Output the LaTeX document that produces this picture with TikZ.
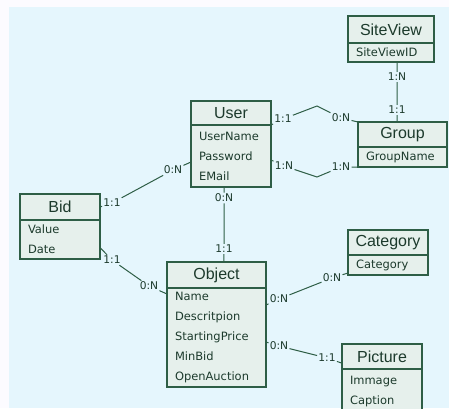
\documentclass[tikz,border=0pt]{standalone}
\usepackage{fontspec}
\setmainfont{Liberation Sans}
\newfontfamily\attrfont{DejaVu Sans}
\usetikzlibrary{positioning}
\definecolor{paper}{HTML}{E5F6FD}
\definecolor{margin}{HTML}{FCFBFF}
\definecolor{boxfill}{HTML}{E6F0EC}
\definecolor{boxline}{HTML}{2E5E46}
\definecolor{ink}{HTML}{1C3A2C}
\tikzset{
 entity/.style={draw=boxline,fill=boxfill,line width=1pt,anchor=north west,inner sep=0,outer sep=0,text=ink,font=\fontsize{12}{14}\selectfont},
 attrs/.style={draw=boxline,fill=boxfill,line width=1pt,anchor=north west,inner ysep=0,inner xsep=6pt,outer sep=0,align=left,text=ink,font=\attrfont\fontsize{8.6}{15}\selectfont},
 link/.style={draw=boxline,line width=.75pt},
 card/.style={inner sep=.8pt,text=ink,font=\attrfont\fontsize{8}{9}\selectfont}
}
\begin{document}
\begin{tikzpicture}[x=.75pt,y=-.75pt]
\path[use as bounding box] (0,0) rectangle (449,408);
\clip (0,0) rectangle (449,408);
\fill[margin] (0,0) rectangle (449,408);
\fill[paper] (9,7) rectangle (449,408);
% entities: title box, attribute box under it
\node[entity,minimum width=64.5pt,minimum height=20.25pt] (siteview) at (348,16) {SiteView};
\node[attrs,text width=52.5pt,minimum height=14.25pt] (siteviewb) at (siteview.south west) {SiteViewID};
\node[entity,minimum width=60pt,minimum height=18pt] (user) at (191,101) {User};
\node[attrs,text width=48pt,minimum height=46.5pt] (userb) at (user.south west) {UserName\\Password\\EMail};
\node[entity,minimum width=66.75pt,minimum height=18.75pt] (group) at (358,122) {Group};
\node[attrs,text width=54.75pt,minimum height=15pt] (groupb) at (group.south west) {GroupName};
\node[entity,minimum width=60pt,minimum height=19.5pt] (bid) at (20,194) {Bid};
\node[attrs,text width=48pt,minimum height=29.25pt] (bidb) at (bid.south west) {Value\\Date};
\node[entity,minimum width=60pt,minimum height=18.75pt] (category) at (348,230) {Category};
\node[attrs,text width=48pt,minimum height=15pt] (categoryb) at (category.south west) {Category};
\node[entity,minimum width=74.25pt,minimum height=19.5pt] (object) at (167,262) {Object};
\node[attrs,text width=62.25pt,minimum height=74.25pt] (objectb) at (object.south west) {Name\\Descritpion\\StartingPrice\\MinBid\\OpenAuction};
\node[entity,minimum width=60pt,minimum height=18.75pt] (picture) at (342,344) {Picture};
\node[attrs,text width=48pt,minimum height=34.5pt] (pictureb) at (picture.south west) {Immage\\Caption};

% user -- group, upper
\node[card] (ug1) at (283,119) {1:1};
\node[card] (ug2) at (341,118) {0:N};
\coordinate (ugtop) at (317,106);
\draw[link] (user.south east) -- (ug1) -- (ugtop) -- (ug2) -- (group.north west);
% user -- group, lower
\node[card] (ug3) at (284,166) {1:N};
\node[card] (ug4) at (341,167) {1:N};
\coordinate (ugbot) at (317,177);
\draw[link] ([yshift=-3pt]userb.east) -- (ug3) -- (ugbot) -- (ug4) -- (groupb.south west);
% siteview -- group
\node[card] (sg1) at (397,77) {1:N};
\node[card] (sg2) at (397,110) {1:1};
\draw[link] ([xshift=4.5pt]siteviewb.south) -- (sg1) -- (sg2) -- ([xshift=-4.1pt]group.north);
% user -- bid
\node[card] (ub1) at (173,170) {0:N};
\node[card] (ub2) at (112,203) {1:1};
\draw[link] ([yshift=-4.5pt]userb.west) -- (ub1) -- (ub2) -- (bid.east);
% user -- object
\node[card] (uo1) at (224,198) {0:N};
\node[card] (uo2) at (224,249) {1:1};
\draw[link] ([xshift=-5.25pt]userb.south) -- (uo1) -- (uo2) -- ([xshift=5.6pt]object.north);
% bid -- object
\node[card] (bo1) at (112,260) {1:1};
\node[card] (bo2) at (149,286) {0:N};
\draw[link] ([yshift=-6pt]bidb.east) -- (bo1) -- (bo2) -- ([yshift=-4.5pt]objectb.north west);
% object -- category
\node[card] (oc1) at (279,299) {0:N};
\node[card] (oc2) at (332,278) {0:N};
\draw[link] ([yshift=-12.75pt]objectb.north east) -- (oc1) -- (oc2) -- ([yshift=1.5pt]categoryb.south west);
% object -- picture
\node[card] (op1) at (279,346) {0:N};
\node[card] (op2) at (327,358) {1:1};
\draw[link] ([yshift=-3.4pt]objectb.east) -- (op1) -- (op2) -- ([yshift=-5pt]picture.west);
\end{tikzpicture}
\end{document}
